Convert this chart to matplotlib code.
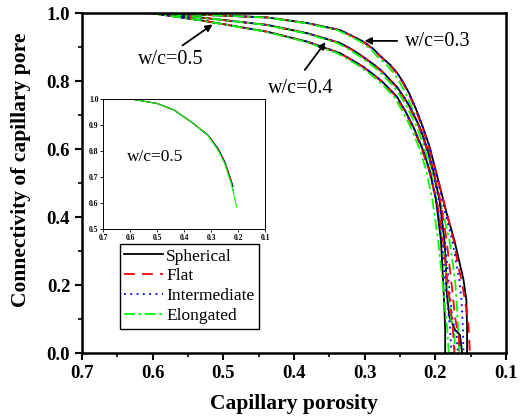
import matplotlib
matplotlib.use('Agg')
import matplotlib.pyplot as plt
from matplotlib.ticker import MultipleLocator, FormatStrFormatter

plt.rcParams['font.family'] = ['Liberation Serif', 'DejaVu Serif']

# w/c = 0.3 (outer curves)
y3 = [1.0, 0.995, 0.987, 0.97, 0.95, 0.933, 0.916, 0.895, 0.87, 0.848, 0.824, 0.795, 0.76, 0.706, 0.655, 0.606, 0.518, 0.412, 0.332, 0.26, 0.215, 0.156, 0.08, 0.0]
x3_sph = [0.604, 0.533, 0.438, 0.380, 0.335, 0.318, 0.302, 0.288, 0.276, 0.264, 0.254, 0.245, 0.236, 0.225, 0.216, 0.208, 0.197, 0.184, 0.173, 0.165, 0.160, 0.156, 0.155, 0.155]
x3_flat = [0.604, 0.533, 0.438, 0.381, 0.336, 0.319, 0.303, 0.289, 0.277, 0.265, 0.255, 0.246, 0.237, 0.226, 0.217, 0.209, 0.197, 0.184, 0.174, 0.168, 0.163, 0.158, 0.153, 0.151]
x3_int = [0.604, 0.533, 0.438, 0.380, 0.335, 0.318, 0.302, 0.288, 0.276, 0.264, 0.254, 0.245, 0.236, 0.225, 0.216, 0.208, 0.198, 0.186, 0.176, 0.170, 0.166, 0.163, 0.161, 0.160]
x3_elo = [0.604, 0.534, 0.440, 0.383, 0.339, 0.322, 0.306, 0.292, 0.281, 0.269, 0.259, 0.250, 0.241, 0.230, 0.221, 0.213, 0.202, 0.189, 0.180, 0.175, 0.172, 0.170, 0.168, 0.166]

# w/c = 0.4
y4 = [1.0, 0.987, 0.965, 0.94, 0.912, 0.893, 0.871, 0.85, 0.83, 0.806, 0.782, 0.752, 0.72, 0.665, 0.6, 0.538, 0.45, 0.332, 0.26, 0.185, 0.106, 0.068, 0.053, 0.0]
x4_sph = [0.604, 0.533, 0.438, 0.380, 0.335, 0.318, 0.302, 0.288, 0.276, 0.265, 0.254, 0.244, 0.235, 0.222, 0.211, 0.203, 0.194, 0.187, 0.185, 0.184, 0.180, 0.172, 0.165, 0.162]
x4_flat = [0.604, 0.533, 0.438, 0.381, 0.336, 0.319, 0.303, 0.289, 0.277, 0.266, 0.255, 0.245, 0.236, 0.223, 0.212, 0.203, 0.193, 0.184, 0.180, 0.176, 0.172, 0.169, 0.167, 0.165]
x4_int = [0.604, 0.533, 0.438, 0.380, 0.335, 0.318, 0.302, 0.288, 0.276, 0.265, 0.254, 0.244, 0.235, 0.222, 0.212, 0.204, 0.195, 0.187, 0.183, 0.180, 0.176, 0.172, 0.170, 0.168]
x4_elo = [0.604, 0.534, 0.440, 0.383, 0.339, 0.322, 0.306, 0.292, 0.280, 0.269, 0.258, 0.248, 0.239, 0.226, 0.215, 0.207, 0.198, 0.190, 0.186, 0.182, 0.178, 0.175, 0.173, 0.172]

# w/c = 0.5 (inner curves)
y5 = [1.0, 0.979, 0.945, 0.915, 0.882, 0.862, 0.842, 0.82, 0.80, 0.777, 0.753, 0.71, 0.665, 0.6, 0.538, 0.45, 0.332, 0.215, 0.13, 0.068, 0.0]
x5_sph = [0.604, 0.533, 0.438, 0.380, 0.335, 0.318, 0.302, 0.288, 0.276, 0.265, 0.254, 0.242, 0.231, 0.218, 0.208, 0.199, 0.192, 0.189, 0.187, 0.186, 0.186]
x5_flat = [0.604, 0.533, 0.438, 0.381, 0.336, 0.319, 0.303, 0.289, 0.277, 0.266, 0.255, 0.243, 0.232, 0.219, 0.209, 0.198, 0.189, 0.183, 0.178, 0.175, 0.173]
x5_int = [0.604, 0.533, 0.438, 0.380, 0.335, 0.318, 0.302, 0.288, 0.276, 0.265, 0.254, 0.242, 0.231, 0.218, 0.209, 0.199, 0.191, 0.186, 0.182, 0.179, 0.177]
x5_elo = [0.604, 0.534, 0.440, 0.383, 0.339, 0.322, 0.306, 0.292, 0.280, 0.269, 0.258, 0.246, 0.235, 0.222, 0.213, 0.204, 0.196, 0.190, 0.186, 0.183, 0.181]

# inset (w/c = 0.5)
ins_x = [0.594, 0.5, 0.4375, 0.375, 0.3125, 0.275, 0.25, 0.225, 0.219]
ins_y = [1.0, 0.983, 0.958, 0.913, 0.862, 0.810, 0.759, 0.682, 0.663]
ins_x_int = [0.594, 0.5, 0.4375, 0.375, 0.3125, 0.275, 0.25, 0.225, 0.214]
ins_y_int = [1.0, 0.983, 0.958, 0.913, 0.862, 0.810, 0.759, 0.682, 0.638]
ins_x_elo = [0.594, 0.5, 0.4375, 0.375, 0.3125, 0.275, 0.25, 0.225, 0.206]
ins_y_elo = [1.0, 0.983, 0.958, 0.913, 0.860, 0.804, 0.752, 0.672, 0.586]

labels = ['Spherical', 'Flat', 'Intermediate', 'Elongated']
colors = ['black', 'red', 'blue', 'lime']
styles = ['-', (0, (6, 4)), (0, (1, 2.5)), (0, (6, 2, 1.5, 2))]

fig = plt.figure(figsize=(5.24, 4.2), dpi=100)
ax = fig.add_axes([0.1565, 0.1595, 0.809, 0.8095])

groups = [(y3, [x3_sph, x3_flat, x3_int, x3_elo]),
          (y4, [x4_sph, x4_flat, x4_int, x4_elo]),
          (y5, [x5_sph, x5_flat, x5_int, x5_elo])]
for g, (yy, xs) in enumerate(groups):
    for i in range(4):
        ax.plot(xs[i], yy, color=colors[i], linestyle=styles[i], lw=1.3,
                label=labels[i] if g == 0 else None)

ax.set_xlim(0.7, 0.1)
ax.set_ylim(0.0, 1.0)
ax.xaxis.set_major_locator(MultipleLocator(0.1))
ax.xaxis.set_minor_locator(MultipleLocator(0.05))
ax.yaxis.set_major_locator(MultipleLocator(0.2))
ax.yaxis.set_minor_locator(MultipleLocator(0.1))
ax.xaxis.set_major_formatter(FormatStrFormatter('%.1f'))
ax.yaxis.set_major_formatter(FormatStrFormatter('%.1f'))
ax.tick_params(which='major', direction='out', length=5, width=1.5, labelsize=13.5)
ax.tick_params(which='minor', direction='out', length=3, width=1.2)
for lab in ax.get_xticklabels() + ax.get_yticklabels():
    lab.set_fontweight('bold')
for s in ax.spines.values():
    s.set_linewidth(1.8)
ax.set_xlabel('Capillary porosity', fontsize=15.5, fontweight='bold', labelpad=9)
ax.set_ylabel('Connectivity of capillary pore', fontsize=15.5, fontweight='bold')
ax.yaxis.set_label_coords(-0.12, 0.54)

# annotations
arr = dict(arrowstyle='-|>', color='black', lw=1.3, mutation_scale=10)
ax.annotate('', xy=(0.304, 0.918), xytext=(0.25, 0.918), arrowprops=arr)
ax.text(0.243, 0.915, 'w/c=0.3', fontsize=14.5, va='center', ha='left')
ax.annotate('', xy=(0.353, 0.921), xytext=(0.387, 0.826), arrowprops=arr)
ax.text(0.39, 0.779, 'w/c=0.4', fontsize=14.5, va='center', ha='center')
ax.annotate('', xy=(0.512, 0.971), xytext=(0.561, 0.9), arrowprops=arr)
ax.text(0.575, 0.862, 'w/c=0.5', fontsize=14.5, va='center', ha='center')

leg = ax.legend(loc='upper left', bbox_to_anchor=(0.229, 0.419), bbox_transform=fig.transFigure,
                fontsize=12.5, handlelength=2.2, handletextpad=0.2, borderpad=0.25,
                labelspacing=0.22, fancybox=False, framealpha=1, edgecolor='black',
                borderaxespad=0)
leg.get_frame().set_linewidth(1.0)

# inset
ins = fig.add_axes([0.197, 0.455, 0.309, 0.309])
ins.plot(ins_x, ins_y, color='black', lw=0.8)
ins.plot(ins_x, ins_y, color='red', lw=0.8, linestyle=(0, (6, 4)))
ins.plot(ins_x_int, ins_y_int, color='blue', lw=0.8, linestyle=(0, (1, 2)))
ins.plot(ins_x_elo, ins_y_elo, color='lime', lw=0.8)
ins.set_xlim(0.7, 0.1)
ins.set_ylim(0.5, 1.0)
ins.xaxis.set_major_locator(MultipleLocator(0.1))
ins.yaxis.set_major_locator(MultipleLocator(0.1))
ins.xaxis.set_major_formatter(FormatStrFormatter('%.1f'))
ins.yaxis.set_major_formatter(FormatStrFormatter('%.1f'))
ins.tick_params(direction='out', length=2, width=0.6, labelsize=5.5, pad=1.5)
for lab in ins.get_xticklabels() + ins.get_yticklabels():
    lab.set_fontweight('bold')
for s in ins.spines.values():
    s.set_linewidth(0.7)
ins.text(0.508, 0.778, 'w/c=0.5', fontsize=12.5, ha='center', va='center')

plt.savefig('out.png', dpi=100)
